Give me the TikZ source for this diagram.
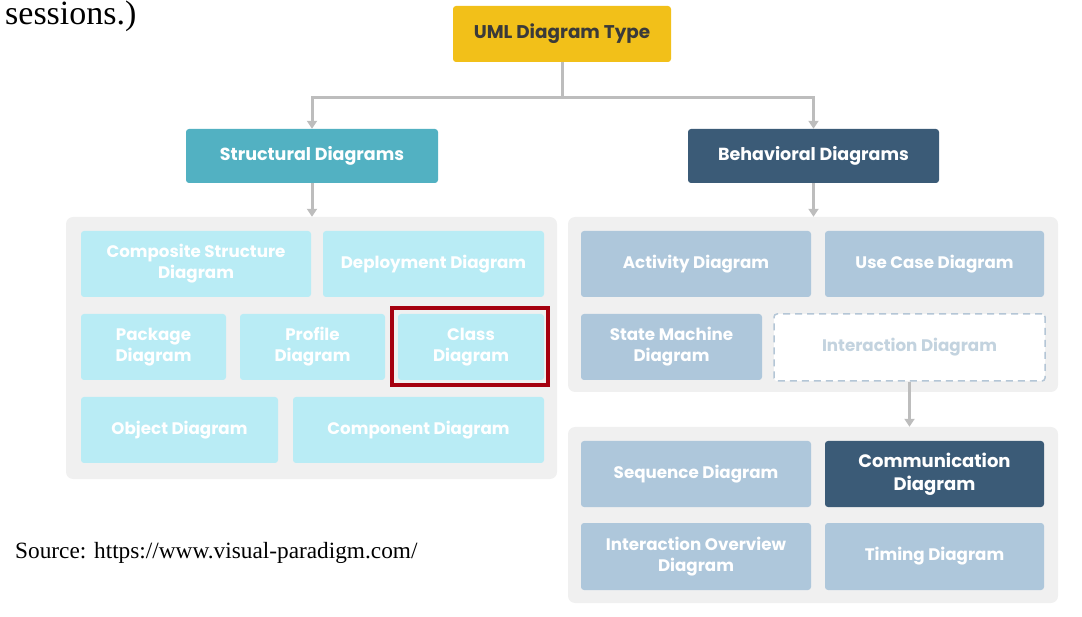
\documentclass[tikz,border=0pt]{standalone}
\usepackage{fontspec}
\setmainfont{Liberation Serif}
\newfontfamily\geo{Poppins}
\usetikzlibrary{arrows.meta}
\definecolor{umly}{HTML}{F2C019}
\definecolor{umltxt}{HTML}{3A3A3A}
\definecolor{teal}{HTML}{52B1C2}
\definecolor{darkb}{HTML}{3B5B77}
\definecolor{lcyan}{HTML}{B9ECF5}
\definecolor{lblue}{HTML}{AEC7DB}
\definecolor{panelg}{HTML}{F0F0F0}
\definecolor{redb}{HTML}{A5000F}
\definecolor{dashb}{HTML}{B4C6D6}
\definecolor{intxt}{HTML}{C3D3DF}
\definecolor{arrg}{HTML}{BDBDBD}
\tikzset{
  box/.style={rounded corners=3pt, align=center, inner sep=0pt, font=\geo\bfseries\fontsize{16.7}{21}\selectfont, text=white},
  headbox/.style={box, font=\geo\bfseries\fontsize{17.5}{21}\selectfont},
  cyanbox/.style={box, fill=lcyan},
  bluebox/.style={box, fill=lblue},
  panel/.style={rounded corners=7pt, fill=panelg, inner sep=0pt},
  conn/.style={draw=arrg, line width=3pt},
  arr/.style={conn, -{Triangle[width=10pt,length=8pt]}},
}
\begin{document}
\begin{tikzpicture}[x=1pt,y=-1pt]
\useasboundingbox (0,0) rectangle (1082,617);
% text outside the chart
\node[anchor=base west, inner sep=0, font=\fontsize{34}{38}\selectfont] (sess) at (5,25) {sessions.)};
\node[anchor=base west, inner sep=0, font=\fontsize{23.3}{27}\selectfont] (src) at (15,558) {Source: https://www.visual-paradigm.com/};
% top
\node[headbox, fill=umly, text=umltxt, font=\geo\bfseries\fontsize{18.4}{22}\selectfont, minimum width=218, minimum height=56] (uml) at (562,34) {UML Diagram Type};
\node[headbox, fill=teal, minimum width=252, minimum height=54] (struct) at (312,156) {Structural Diagrams};
\node[headbox, fill=darkb, minimum width=251, minimum height=54] (behav) at (813.5,156) {Behavioral Diagrams};
% panels
\node[panel, minimum width=491, minimum height=262] (lpanel) at (311.5,348) {};
\node[panel, minimum width=490, minimum height=175] (rpanel) at (813,304.5) {};
\node[panel, minimum width=490, minimum height=176] (bpanel) at (813,515) {};
% left panel boxes
\node[cyanbox, minimum width=230, minimum height=66] (comp) at (196,264) {Composite Structure\\Diagram};
\node[cyanbox, minimum width=221, minimum height=66] (depl) at (433.5,264) {Deployment Diagram};
\node[cyanbox, minimum width=145, minimum height=66] (pack) at (153.5,347) {Package\\Diagram};
\node[cyanbox, minimum width=145, minimum height=66] (prof) at (312.5,347) {Profile\\Diagram};
\node[cyanbox, minimum width=146, minimum height=66] (class) at (471,347) {Class\\Diagram};
\draw[redb, line width=4pt] (392,308) rectangle (548,385);
\node[cyanbox, minimum width=197, minimum height=66] (obj) at (179.5,430) {Object Diagram};
\node[cyanbox, minimum width=251, minimum height=66] (compo) at (418.5,430) {Component Diagram};
% right panel boxes
\node[bluebox, minimum width=230, minimum height=66] (act) at (696,264) {Activity Diagram};
\node[bluebox, minimum width=219, minimum height=66] (usec) at (934.5,264) {Use Case Diagram};
\node[bluebox, minimum width=181, minimum height=66] (state) at (671.5,347) {State Machine\\Diagram};
\node[box, fill=white, draw=dashb, line width=1.5pt, dash pattern=on 7pt off 5pt, text=intxt, minimum width=271, minimum height=67] (inter) at (909.5,347.5) {Interaction Diagram};
% bottom panel boxes
\node[bluebox, minimum width=230, minimum height=66] (seq) at (696,474) {Sequence Diagram};
\node[box, fill=darkb, font=\geo\bfseries\fontsize{18}{23}\selectfont, minimum width=219, minimum height=66] (comm) at (934.5,474) {Communication\\Diagram};
\node[bluebox, minimum width=230, minimum height=67] (iod) at (696,556.5) {Interaction Overview\\Diagram};
\node[bluebox, minimum width=219, minimum height=67] (timing) at (934.5,556.5) {Timing Diagram};
% connectors
\draw[arr] (uml.south) -- ++(0,35) -| (struct.north);
\draw[arr] (uml.south) -- ++(0,35) -| (behav.north);
\draw[arr] (struct.south) -- (struct.south |- lpanel.north);
\draw[arr] (behav.south) -- (behav.south |- rpanel.north);
\draw[arr] (inter.south) -- (inter.south |- bpanel.north);
\end{tikzpicture}
\end{document}
